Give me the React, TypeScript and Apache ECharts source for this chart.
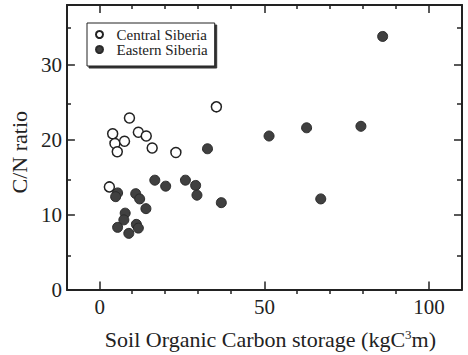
import React, { useEffect, useRef } from "react";
import * as echarts from "echarts";

const centralX = [9.0, 35.4, 3.9, 11.7, 14.1, 4.6, 7.5, 5.3, 15.9, 23.1, 2.9];
const centralY = [22.9, 24.4, 20.8, 21.0, 20.5, 19.5, 19.8, 18.4, 18.9, 18.3, 13.7];

const easternX = [32.7, 16.7, 20.0, 26.0, 29.1, 29.5, 36.9, 5.4, 4.8, 10.9, 12.1, 14.0, 7.7, 7.3, 5.4, 8.8, 11.1, 11.7, 85.9, 51.4, 62.8, 79.3, 67.1];
const easternY = [18.8, 14.6, 13.8, 14.6, 13.9, 12.6, 11.6, 12.9, 12.4, 12.8, 12.1, 10.8, 10.2, 9.3, 8.3, 7.5, 8.7, 8.2, 33.8, 20.5, 21.6, 21.8, 12.1];

const xMajorTicks = [0, 50, 100];
const xMinorTicks = [10, 20, 30, 40, 60, 70, 80, 90];
const yMajorTicks = [0, 10, 20, 30];
const yMinorTicks = [5, 15, 25, 35];

const FONT = "'Liberation Serif', 'DejaVu Serif', serif";
const INK = "#222";

export default function App() {
  const ref = useRef<HTMLDivElement>(null);
  useEffect(() => {
    if (!ref.current) return;
    const chart = echarts.init(ref.current, undefined, { renderer: "svg" });
    const gridRect = { left: 66, right: 6, top: 5, bottom: 61 };
    const xBase = { type: "value", min: -10, max: 110, splitLine: { show: false } };
    const yBase = { type: "value", min: 0, max: 38, splitLine: { show: false } };
    const line = { show: true, onZero: false, lineStyle: { color: INK, width: 2 } };
    const noLine = { show: false, onZero: false };
    const tick = (vals: number[], len: number) => ({
      show: true,
      inside: true,
      length: len,
      customValues: vals,
      lineStyle: { color: INK, width: 1.5 },
    });
    const noLabel = { show: false };
    const option: any = {
      animation: false,
      backgroundColor: "#fff",
      textStyle: { fontFamily: FONT },
      grid: [
        { ...gridRect },
        { ...gridRect },
      ],
      xAxis: [
        {
          ...xBase,
          gridIndex: 0,
          position: "bottom",
          axisLine: line,
          axisTick: tick(xMajorTicks, 8),
          axisLabel: { customValues: xMajorTicks, color: INK, fontSize: 21, margin: 7, fontFamily: FONT },
          name: "Soil Organic Carbon storage (kgC{sup|3}m)",
          nameLocation: "middle",
          nameGap: 38,
          nameTextStyle: {
            color: INK,
            fontSize: 22,
            fontFamily: FONT,
            padding: [0, 0, 0, 12],
            rich: { sup: { fontSize: 13, verticalAlign: "top", padding: [0, 0, 10, 0], color: INK, fontFamily: FONT } },
          },
        },
        { ...xBase, gridIndex: 0, position: "top", axisLine: line, axisTick: tick(xMajorTicks, 8), axisLabel: noLabel },
        { ...xBase, gridIndex: 1, position: "bottom", axisLine: noLine, axisTick: tick(xMinorTicks, 4), axisLabel: noLabel },
        { ...xBase, gridIndex: 1, position: "top", axisLine: noLine, axisTick: tick(xMinorTicks, 4), axisLabel: noLabel },
      ],
      yAxis: [
        {
          ...yBase,
          gridIndex: 0,
          position: "left",
          axisLine: line,
          axisTick: tick(yMajorTicks, 8),
          axisLabel: { customValues: yMajorTicks, color: INK, fontSize: 21, margin: 5, fontFamily: FONT },
          name: "C/N ratio",
          nameLocation: "middle",
          nameGap: 34,
          nameTextStyle: { color: INK, fontSize: 22, fontFamily: FONT, padding: [0, 10, 0, 0] },
        },
        { ...yBase, gridIndex: 0, position: "right", axisLine: line, axisTick: tick(yMajorTicks, 8), axisLabel: noLabel },
        { ...yBase, gridIndex: 1, position: "left", axisLine: noLine, axisTick: tick(yMinorTicks, 5), axisLabel: noLabel },
        { ...yBase, gridIndex: 1, position: "right", axisLine: noLine, axisTick: tick(yMinorTicks, 5), axisLabel: noLabel },
      ],
      legend: {
        left: 87,
        top: 23,
        orient: "vertical",
        itemWidth: 24,
        itemHeight: 7,
        itemGap: 0,
        padding: [4, 7, 9, 8],
        backgroundColor: "#fff",
        borderColor: INK,
        borderWidth: 1,
        shadowColor: "#333",
        shadowBlur: 1,
        shadowOffsetX: 2,
        shadowOffsetY: 2,
        textStyle: { color: INK, fontSize: 15, fontFamily: FONT },
        data: ["Central Siberia", "Eastern Siberia"],
      },
      series: [
        {
          name: "Central Siberia",
          type: "scatter",
          xAxisIndex: 0,
          yAxisIndex: 0,
          symbol: "circle",
          symbolSize: 10,
          itemStyle: { color: "#fff", borderColor: INK, borderWidth: 1.5, opacity: 1 },
          data: centralX.map((x, i) => [x, centralY[i]]),
          z: 3,
        },
        {
          name: "Eastern Siberia",
          type: "scatter",
          xAxisIndex: 0,
          yAxisIndex: 0,
          symbol: "circle",
          symbolSize: 10,
          itemStyle: { color: "#404040", borderColor: "#2a2a2a", borderWidth: 1, opacity: 1 },
          data: easternX.map((x, i) => [x, easternY[i]]),
          z: 2,
        },
      ],
    };
    chart.setOption(option);
    return () => chart.dispose();
  }, []);
  return (
    <div
      ref={ref}
      style={{ position: "fixed", left: 0, top: 0, width: 468, height: 355, background: "#fff" }}
    />
  );
}
